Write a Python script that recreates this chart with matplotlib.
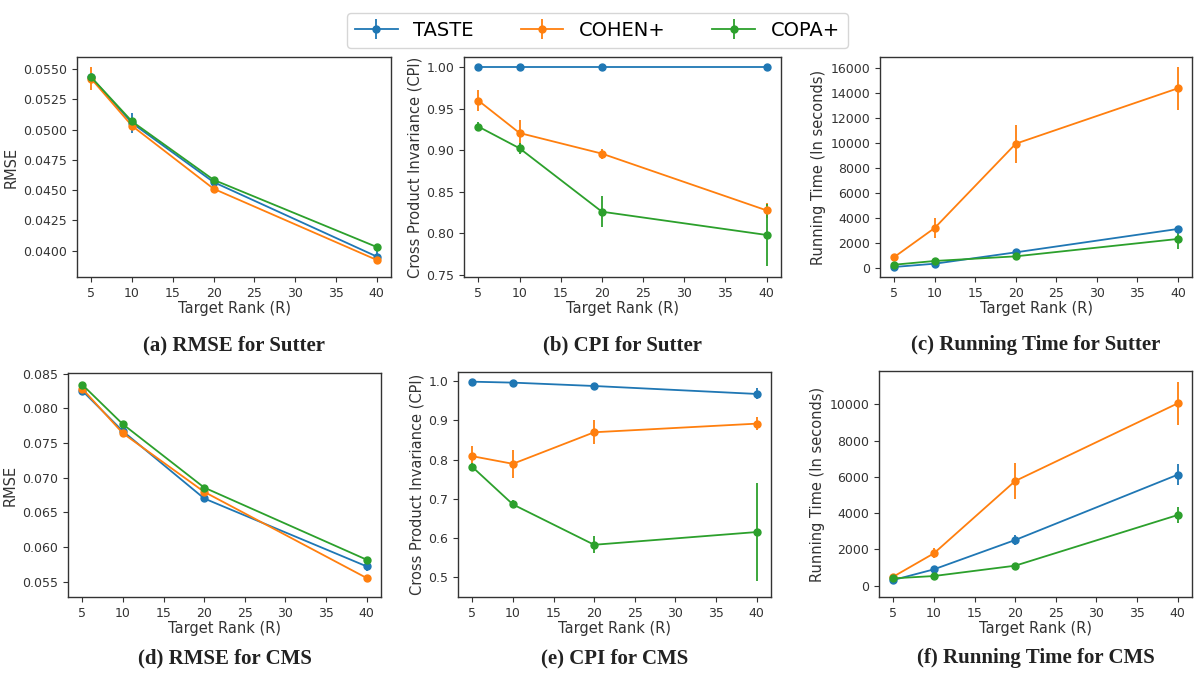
import matplotlib.pyplot as plt
import numpy as np

# ===== data =====
ranks = [5, 10, 20, 40]
methods = ['TASTE', 'COHEN+', 'COPA+']
colors = ['#1f77b4', '#ff7f0e', '#2ca02c']

# Sutter
rmse_sutter = {
    'TASTE':  [0.05431, 0.05054, 0.04566, 0.03951],
    'COHEN+': [0.05420, 0.05031, 0.04511, 0.03923],
    'COPA+':  [0.05432, 0.05067, 0.04585, 0.04030],
}
rmse_sutter_err = {
    'TASTE':  [0.00015, 0.00083, 0.00010, 0.00050],
    'COHEN+': [0.00096, 0.00020, 0.00010, 0.00015],
    'COPA+':  [0.00020, 0.00015, 0.00012, 0.00010],
}
cpi_sutter = {
    'TASTE':  [1.000, 1.000, 1.000, 1.000],
    'COHEN+': [0.9595, 0.9205, 0.8957, 0.8274],
    'COPA+':  [0.9282, 0.9021, 0.8258, 0.7978],
}
cpi_sutter_err = {
    'TASTE':  [0.0005, 0.0005, 0.0005, 0.0005],
    'COHEN+': [0.0122, 0.0160, 0.0060, 0.0094],
    'COPA+':  [0.0050, 0.0064, 0.0190, 0.0377],
}
time_sutter = {
    'TASTE':  [110, 370, 1280, 3150],
    'COHEN+': [900, 3230, 9970, 14400],
    'COPA+':  [290, 590, 960, 2350],
}
time_sutter_err = {
    'TASTE':  [40, 60, 100, 120],
    'COHEN+': [80, 770, 1530, 1700],
    'COPA+':  [40, 80, 80, 800],
}

# CMS
rmse_cms = {
    'TASTE':  [0.08255, 0.07670, 0.06701, 0.05721],
    'COHEN+': [0.08284, 0.07641, 0.06796, 0.05553],
    'COPA+':  [0.08342, 0.07771, 0.06858, 0.05817],
}
rmse_cms_err = {
    'TASTE':  [0.0002, 0.0003, 0.0002, 0.0007],
    'COHEN+': [0.0002, 0.0003, 0.0002, 0.0001],
    'COPA+':  [0.0002, 0.0002, 0.0002, 0.0001],
}
cpi_cms = {
    'TASTE':  [0.999, 0.9966, 0.988, 0.9677],
    'COHEN+': [0.809, 0.7895, 0.870, 0.892],
    'COPA+':  [0.7818, 0.686, 0.583, 0.6155],
}
cpi_cms_err = {
    'TASTE':  [0.002, 0.003, 0.003, 0.014],
    'COHEN+': [0.025, 0.0365, 0.030, 0.016],
    'COPA+':  [0.010, 0.010, 0.022, 0.124],
}
time_cms = {
    'TASTE':  [312, 901, 2518, 6121],
    'COHEN+': [496, 1783, 5772, 10055],
    'COPA+':  [404, 533, 1103, 3897],
}
time_cms_err = {
    'TASTE':  [60, 200, 250, 580],
    'COHEN+': [60, 280, 1000, 1195],
    'COPA+':  [40, 60, 80, 460],
}

# ===== style =====
plt.rcParams.update({
    'font.family': 'DejaVu Sans',
    'font.size': 9,
    'axes.edgecolor': '#333333',
    'axes.linewidth': 1.0,
    'xtick.color': '#333333',
    'ytick.color': '#333333',
    'xtick.labelcolor': '#333333',
    'ytick.labelcolor': '#333333',
    'axes.labelcolor': '#333333',
})

fig = plt.figure(figsize=(11.95, 6.75), dpi=100)
W, H = 1195, 675


def add_ax(l, t, r, b):
    return fig.add_axes([l / W, 1 - b / H, (r - l) / W, (b - t) / H])


panels = [
    # (box, values, errors, ylabel, ylim, yticks, caption)
    ((77, 57, 391, 277), rmse_sutter, rmse_sutter_err, 'RMSE', (0.03782, 0.0560),
     np.arange(0.04, 0.0551, 0.0025), '(a) RMSE for Sutter'),
    ((464, 57, 781, 277), cpi_sutter, cpi_sutter_err, 'Cross Product Invariance (CPI)', (0.7472, 1.012),
     np.arange(0.75, 1.001, 0.05), '(b) CPI for Sutter'),
    ((880, 57, 1192, 277), time_sutter, time_sutter_err, 'Running Time (In seconds)', (-693, 16907),
     np.arange(0, 16001, 2000), '(c) Running Time for Sutter'),
    ((68, 373, 381, 597), rmse_cms, rmse_cms_err, 'RMSE', (0.0528, 0.0851),
     np.arange(0.055, 0.0851, 0.005), '(d) RMSE for CMS'),
    ((458, 372, 771, 597), cpi_cms, cpi_cms_err, 'Cross Product Invariance (CPI)', (0.4498, 1.0237),
     np.arange(0.5, 1.001, 0.1), '(e) CPI for CMS'),
    ((879, 371, 1192, 597), time_cms, time_cms_err, 'Running Time (In seconds)', (-623, 11837),
     np.arange(0, 10001, 2000), '(f) Running Time for CMS'),
]

handles = []
for i, (box, vals, errs, ylab, ylim, yticks, cap) in enumerate(panels):
    ax = add_ax(*box)
    for m, c in zip(methods, colors):
        h = ax.errorbar(ranks, vals[m], yerr=errs[m], color=c, marker='o',
                        markersize=5, linewidth=1.3, elinewidth=1.3, capsize=0,
                        label=m)
        if i == 0:
            handles.append(h)
    ax.set_xlim(3.25, 41.75)
    ax.set_xticks([5, 10, 15, 20, 25, 30, 35, 40])
    ax.set_ylim(*ylim)
    ax.set_yticks(yticks)
    if 'RMSE' in ylab:
        if i == 0:
            ax.set_yticklabels(['%.4f' % t for t in yticks])
        else:
            ax.set_yticklabels(['%.3f' % t for t in yticks])
    elif 'CPI' in ylab:
        if i == 1:
            ax.set_yticklabels(['%.2f' % t for t in yticks])
        else:
            ax.set_yticklabels(['%.1f' % t for t in yticks])
    ax.tick_params(labelsize=9)
    ax.set_xlabel('Target Rank (R)', fontsize=10.5, labelpad=1)
    ax.set_ylabel(ylab, fontsize=10.5, labelpad=3)
    cx = (box[0] + box[2]) / 2 / W
    off = 68 if i < 3 else 61
    cy = 1 - (box[3] + off) / H
    fig.text(cx, cy, cap, ha='center', va='center', fontsize=15,
             fontweight='bold', family='Liberation Serif', color='#222222')

leg = fig.legend(handles, methods, loc='upper center', bbox_to_anchor=(0.5, 0.995),
                 ncol=3, fontsize=14, frameon=True, handlelength=2.2,
                 columnspacing=2.4, fancybox=True)
leg.get_frame().set_edgecolor('#cccccc')

plt.savefig('out.png', dpi=100, facecolor='white')
